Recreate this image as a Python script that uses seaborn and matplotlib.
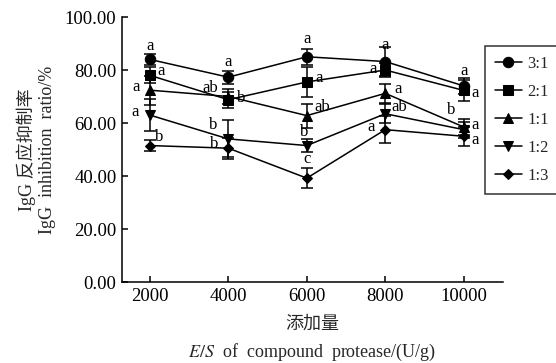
import numpy as np
import pandas as pd
import matplotlib
matplotlib.use("Agg")
import matplotlib.pyplot as plt
import seaborn as sns

# ---- data ----
doses = [2000, 4000, 6000, 8000, 10000]
ratios = ["3:1", "2:1", "1:1", "1:2", "1:3"]
v_31 = [84.0, 77.3, 85.0, 83.2, 74.0]
v_21 = [78.0, 68.8, 75.5, 80.0, 72.3]
v_11 = [72.4, 70.0, 62.8, 71.2, 58.5]
v_12 = [63.0, 54.0, 51.5, 63.5, 57.5]
v_13 = [51.5, 50.5, 39.2, 57.5, 55.0]
e_31 = [2.0, 2.5, 3.0, 5.5, 3.0]
e_21 = [3.0, 3.0, 5.5, 2.5, 4.0]
e_11 = [5.5, 3.0, 4.5, 3.5, 3.0]
e_12 = [6.0, 7.0, 2.5, 3.5, 3.0]
e_13 = [2.0, 4.0, 3.8, 5.0, 3.5]
l_31 = ["a", "a", "a", "a", "a"]
l_21 = ["a", "b", "a", "a", "a"]
l_11 = ["a", "ab", "ab", "a", "b"]
l_12 = ["a", "b", "b", "ab", "a"]
l_13 = ["b", "b", "c", "a", "a"]
yticks = [0, 20, 40, 60, 80, 100]

values = [v_31, v_21, v_11, v_12, v_13]
errors = [e_31, e_21, e_11, e_12, e_13]
letters = [l_31, l_21, l_11, l_12, l_13]

rows = []
for r, vs, es in zip(ratios, values, errors):
    for d, v, e in zip(doses, vs, es):
        rows.append({"dose": d, "val": v, "err": e, "ratio": r})
df = pd.DataFrame(rows)

# ---- style ----
sns.set_theme(style="ticks")
plt.rcParams["font.family"] = ["Liberation Serif", "Noto Sans CJK SC"]
plt.rcParams["mathtext.fontset"] = "stix"

fig = plt.figure(figsize=(5.56, 3.63), dpi=100)
ax = fig.add_axes([0.2194, 0.2231, 0.6853, 0.730])

markers = {"3:1": "o", "2:1": "s", "1:1": "^", "1:2": "v", "1:3": "D"}
msizes = {"3:1": 7.5, "2:1": 7, "1:1": 7.5, "1:2": 7.5, "1:3": 5}

for r in ratios:
    sub = df[df["ratio"] == r]
    ax.errorbar(sub["dose"], sub["val"], yerr=sub["err"], fmt="none",
                ecolor="black", elinewidth=1.1, capsize=4, capthick=1.1, zorder=2)
    sns.lineplot(data=sub, x="dose", y="val", ax=ax, color="black",
                 marker=markers[r], markersize=msizes[r], markeredgecolor="black",
                 linewidth=1.1, label=r, zorder=3, errorbar=None)

# significance letters (offsets in points)
offs = {
    "3:1": [(0, 10), (0, 11), (0, 13), (0, 12), (0, 11)],
    "2:1": [(8, 3), (9, 1), (9, 3), (-9, 1), (8, -2)],
    "1:1": [(-10, 2), (-13, 6), (11, 6), (9, 3), (-9, 12)],
    "1:2": [(-11, 2), (-11, 10), (-2, 10), (10, 5), (8, 3)],
    "1:3": [(7, 6), (-10, 3), (0, 14), (-10, 2), (8, -3)],
}
for r, vs, ls in zip(ratios, values, letters):
    for d, v, t, o in zip(doses, vs, ls, offs[r]):
        ax.annotate(t, (d, v), xytext=o, textcoords="offset points",
                    ha="center", va="center", fontsize=12, color="black")

ax.set_xlim(1290, 11000)
ax.set_ylim(0, 100)
ax.set_xticks(doses)
ax.set_xticklabels([str(d) for d in doses])
ax.set_yticks(yticks)
ax.set_yticklabels([f"{t:.2f}" for t in yticks])
ax.tick_params(direction="in", length=4, width=1.1, labelsize=13.5, colors="black", pad=4)
for s in ["top", "right"]:
    ax.spines[s].set_visible(False)
for s in ["left", "bottom"]:
    ax.spines[s].set_color("black")
    ax.spines[s].set_linewidth(1.1)

ax.set_xlabel("添加量\n$E/S$  of  compound  protease/(U/g)", fontsize=13, labelpad=8,
              linespacing=1.6)
ax.set_ylabel("IgG 反应抑制率\nIgG  inhibition  ratio/%", fontsize=13, labelpad=6,
              linespacing=1.25)

if ax.get_legend():
    ax.get_legend().remove()
h, l = ax.get_legend_handles_labels()
leg = fig.legend(h, l, loc="upper left", bbox_to_anchor=(485 / 556, 1 - 46 / 363),
                 frameon=True, fancybox=False, edgecolor="black", fontsize=12,
                 handlelength=1.6, handletextpad=0.35, labelspacing=0.72,
                 borderpad=0.6, borderaxespad=0)
leg.get_frame().set_linewidth(1.1)

fig.savefig("out.png", dpi=100)
